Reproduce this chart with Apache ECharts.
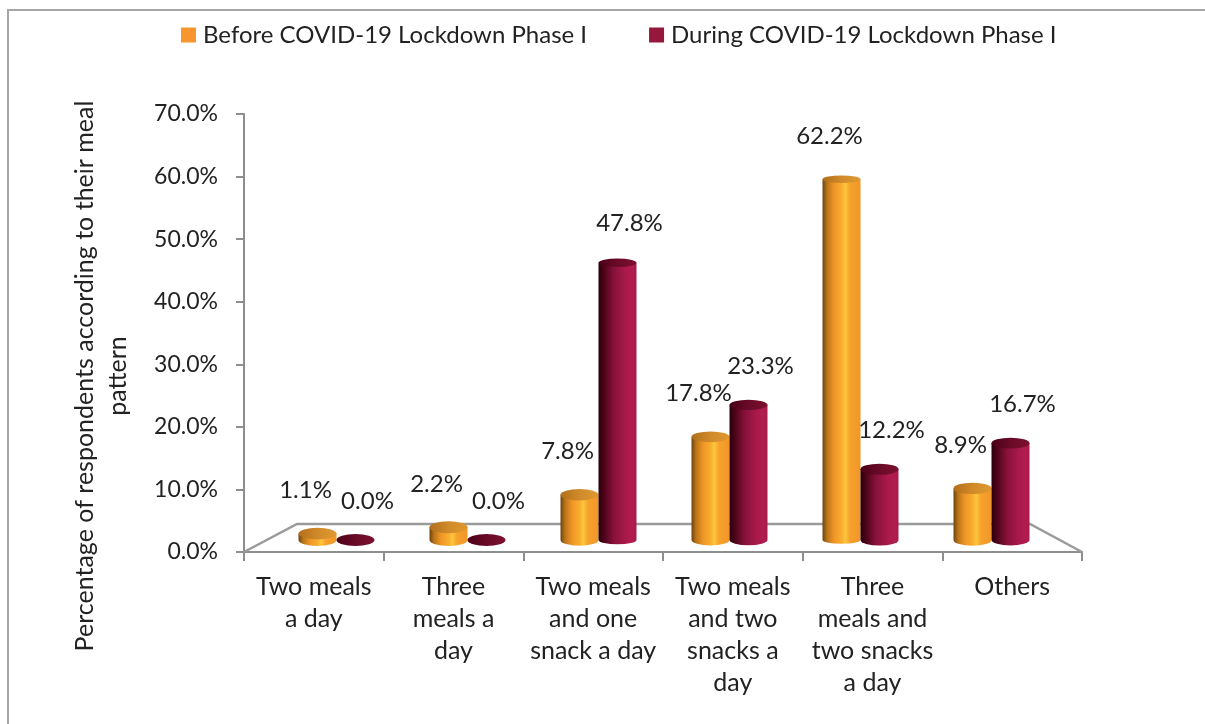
<!DOCTYPE html>
<html>
<head>
<meta charset="utf-8">
<title>Meal pattern before and during COVID-19 lockdown</title>
<script src="https://cdn.jsdelivr.net/npm/echarts@6/dist/echarts.min.js"></script>
<style>
  html, body { margin: 0; padding: 0; background: #ffffff; }
  #chart { width: 1205px; height: 724px; }
</style>
</head>
<body>
<div id="chart"></div>
<script>
// ---- data ----
const categories = [
  'Two meals\na day',
  'Three\nmeals a\nday',
  'Two meals\nand one\nsnack a day',
  'Two meals\nand two\nsnacks a\nday',
  'Three\nmeals and\ntwo snacks\na day',
  'Others'
];
const seriesNames = ['Before COVID-19 Lockdown Phase I', 'During COVID-19 Lockdown Phase I'];
const beforeLockdown = [1.1, 2.2, 7.8, 17.8, 62.2, 8.9];
const duringLockdown = [0.0, 0.0, 47.8, 23.3, 12.2, 16.7];
const yTickValues = [0, 10, 20, 30, 40, 50, 60, 70];

// ---- styling ----
const FONT = 'Lato, "Liberation Sans", sans-serif';
const TEXT_COLOR = '#222222';
const AXIS_COLOR = '#8e8e8e';

const palettes = [
  {
    legend: '#F7962F',
    body: [
      [0, '#6e430c'], [0.12, '#b8741a'], [0.3, '#ef9526'],
      [0.5, '#f9ad30'], [0.6, '#fcc63c'], [0.72, '#f7a22c'], [1, '#f0962a']
    ],
    top: [[0, '#b26f1a'], [0.5, '#d08a2a'], [1, '#e0992f']]
  },
  {
    legend: '#95173B',
    body: [
      [0, '#2a000e'], [0.15, '#4e0419'], [0.4, '#86113a'],
      [0.7, '#a8194a'], [0.9, '#b21c4f'], [1, '#a51a49']
    ],
    top: [[0, '#4a0016'], [0.5, '#6a0a28'], [1, '#7d1030']]
  }
];

// label placement relative to the top of each cylinder, per series
const labelShift = [[-12, -43], [12, -39]];

function grad(stops) {
  return {
    type: 'linear', x: 0, y: 0, x2: 1, y2: 0,
    colorStops: stops.map(s => ({ offset: s[0], color: s[1] }))
  };
}

// Draws one cylinder per category; side = -1 (left of band centre) or +1 (right)
function makeCylinder(seriesIdx) {
  const side = seriesIdx === 0 ? -1 : 1;
  const pal = palettes[seriesIdx];
  return function (params, api) {
    const cat = api.value(0);
    const val = api.value(1);
    const base = api.coord([cat, 0]);
    const top = api.coord([cat, val]);
    const band = api.size([1, 0])[0];
    const w = band * 0.29;
    const cx = base[0] + side * w / 2;
    const rx = w / 2;
    const x0 = cx - rx, x1 = cx + rx;
    const yb = base[1], yt = top[1];
    const ry = 6 - 2.4 * (yb - yt) / 400;

    const body = 'M' + x0 + ' ' + yt + ' L' + x0 + ' ' + yb +
      ' A' + rx + ' ' + ry + ' 0 0 0 ' + x1 + ' ' + yb +
      ' L' + x1 + ' ' + yt + ' Z';
    const cap = 'M' + x0 + ' ' + yt +
      ' A' + rx + ' ' + ry + ' 0 1 0 ' + x1 + ' ' + yt +
      ' A' + rx + ' ' + ry + ' 0 1 0 ' + x0 + ' ' + yt + ' Z';

    const children = [];
    if (yb - yt > 0.5) {
      children.push({ type: 'path', shape: { pathData: body }, style: { fill: grad(pal.body) } });
    }
    children.push({ type: 'path', shape: { pathData: cap }, style: { fill: grad(pal.top) } });
    children.push({
      type: 'text',
      x: cx + labelShift[seriesIdx][0],
      y: yt + labelShift[seriesIdx][1],
      style: {
        text: val.toFixed(1) + '%',
        fill: TEXT_COLOR,
        font: '24px ' + FONT,
        align: 'center',
        verticalAlign: 'middle'
      }
    });
    return { type: 'group', children: children };
  };
}

const chart = echarts.init(document.getElementById('chart'), null, { renderer: 'canvas' });

const option = {
  backgroundColor: '#ffffff',
  animation: false,
  legend: {
    left: 181,
    top: 23,
    padding: 0,
    itemWidth: 15,
    itemHeight: 15,
    itemGap: 62,
    icon: 'rect',
    data: seriesNames,
    textStyle: { fontFamily: FONT, fontSize: 24, color: TEXT_COLOR, padding: [0, 0, 0, 2] }
  },
  grid: [
    // front axis frame
    { left: 244, top: 114, width: 838, height: 438 },
    // plane where the cylinders stand (set back in depth)
    { left: 271, top: 134, width: 786, height: 406 }
  ],
  xAxis: [
    {
      gridIndex: 0,
      type: 'category',
      data: categories,
      boundaryGap: true,
      axisLine: { show: true, lineStyle: { color: AXIS_COLOR, width: 2 } },
      axisTick: { show: true, interval: 0, length: 9, lineStyle: { color: AXIS_COLOR, width: 2 } },
      axisLabel: {
        interval: 0,
        margin: 19,
        fontFamily: FONT,
        fontSize: 25,
        lineHeight: 32,
        color: TEXT_COLOR,
        align: 'center'
      },
      splitLine: { show: false }
    },
    {
      gridIndex: 1,
      type: 'category',
      data: categories,
      show: false
    }
  ],
  yAxis: [
    {
      gridIndex: 0,
      type: 'value',
      min: yTickValues[0],
      max: yTickValues[yTickValues.length - 1],
      interval: yTickValues[1] - yTickValues[0],
      axisLine: { show: true, lineStyle: { color: AXIS_COLOR, width: 2 } },
      axisTick: { show: true, length: 8, lineStyle: { color: AXIS_COLOR, width: 2 } },
      splitLine: { show: false },
      axisLabel: {
        margin: 26,
        fontFamily: FONT,
        fontSize: 23,
        color: TEXT_COLOR,
        formatter: v => v.toFixed(1) + '%'
      }
    },
    {
      gridIndex: 1,
      type: 'value',
      min: yTickValues[0],
      max: yTickValues[yTickValues.length - 1],
      show: false
    }
  ],
  graphic: [
    // chart border
    {
      type: 'rect', z: 0, silent: true,
      shape: { x: 8, y: 10, width: 1400, height: 900 },
      style: { fill: null, stroke: '#a6a6a6', lineWidth: 2 }
    },
    // floor outline
    {
      type: 'polyline', z: 1, silent: true,
      shape: { points: [[244, 552], [297, 524], [1030, 524], [1082, 552]] },
      style: { fill: null, stroke: '#9a9a9a', lineWidth: 2.5 }
    },
    // value axis title
    {
      type: 'text', z: 3, silent: true,
      x: 101, y: 376, rotation: Math.PI / 2,
      style: {
        text: 'Percentage of respondents according to their meal\npattern',
        font: '25px ' + FONT,
        lineHeight: 33,
        fill: TEXT_COLOR,
        align: 'center',
        verticalAlign: 'middle'
      }
    }
  ],
  series: [
    {
      name: seriesNames[0],
      type: 'custom',
      xAxisIndex: 1,
      yAxisIndex: 1,
      itemStyle: { color: palettes[0].legend },
      renderItem: makeCylinder(0),
      data: beforeLockdown.map((v, i) => [i, v]),
      z: 3
    },
    {
      name: seriesNames[1],
      type: 'custom',
      xAxisIndex: 1,
      yAxisIndex: 1,
      itemStyle: { color: palettes[1].legend },
      renderItem: makeCylinder(1),
      data: duringLockdown.map((v, i) => [i, v]),
      z: 3
    }
  ]
};

chart.setOption(option);
</script>
</body>
</html>
